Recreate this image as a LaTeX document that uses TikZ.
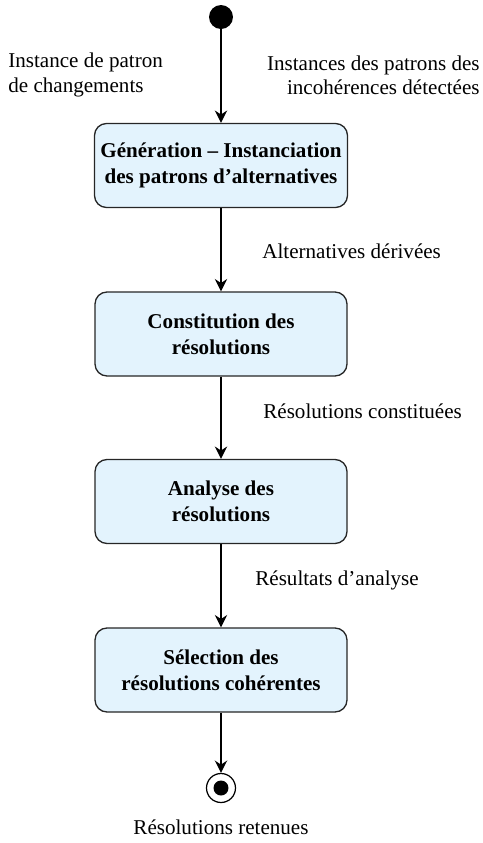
\documentclass[tikz,border=0pt]{standalone}
\usepackage{fontspec}
\setmainfont{Liberation Serif}
\usetikzlibrary{arrows.meta}
\definecolor{fondbleu}{HTML}{E3F3FD}
\tikzset{
  etape/.style={draw=black!85, fill=fondbleu, rounded corners=6.8pt, line width=0.75pt,
    minimum width=5.04cm, minimum height=1.68cm, align=center,
    font=\fontsize{12}{15}\selectfont\bfseries},
  fleche/.style={line width=1.1pt, -{Stealth[length=7pt,width=7pt]}},
  etiq/.style={inner sep=0pt, font=\fontsize{12}{13.8}\selectfont}
}
\begin{document}
\begin{tikzpicture}[x=0.02cm, y=-0.02cm]
            \useasboundingbox (0,0) rectangle (483,843);
            %noeuds
            \node (debut) [circle, fill, minimum size=0.48cm, inner sep=0pt] at (221, 17) {};
            \node (gen) [etape] at (221, 165.5) {Génération – Instanciation\\des patrons d’alternatives};
            \node (const) [etape] at (221, 334) {Constitution des\\résolutions};
            \node (anal) [etape] at (221, 501.5) {Analyse des\\résolutions};
            \node (sel) [etape] at (221, 670) {Sélection des\\résolutions cohérentes};
            \node (fin) [circle, draw, line width=0.7pt, minimum size=0.58cm, inner sep=0pt] at (221, 788) {};
            \node (finpt) [circle, fill, minimum size=0.3cm, inner sep=0pt] at (fin) {};
            %fleches
            \draw[fleche] (debut) -- (gen);
            \draw[fleche] (gen) -- (const);
            \draw[fleche] (const) -- (anal);
            \draw[fleche] (anal) -- (sel);
            \draw[fleche] (sel) -- (fin);
            %etiquettes
            \node (chgt) [etiq, anchor=west, align=left] at (8, 75) {Instance de patron\\de changements};
            \node (incoh) [etiq, anchor=east, align=right] at (480, 75) {Instances des patrons des\\incohérences détectées};
            \node (altder) [etiq, anchor=west] at (262, 251) {Alternatives dérivées};
            \node (rescons) [etiq, anchor=west] at (263, 411) {Résolutions constituées};
            \node (resanal) [etiq, anchor=west] at (255, 580) {Résultats d’analyse};
            \node (resret) [etiq] at (221, 827) {Résolutions retenues};
        \end{tikzpicture}
\end{document}
